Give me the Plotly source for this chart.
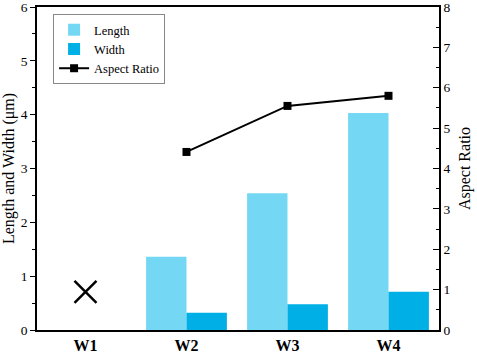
import plotly.graph_objects as go

categories = ["W1", "W2", "W3", "W4"]
length_um = [None, 1.36, 2.54, 4.03]
width_um = [None, 0.32, 0.48, 0.71]
aspect_ratio = [None, 4.41, 5.55, 5.80]
w1_marker_y = [0.71]
w1_marker_x = ["W1"]

FONT = "Liberation Serif"

fig = go.Figure()
fig.add_trace(go.Bar(x=categories, y=length_um, name="Length",
                     marker=dict(color="#74D8F4", line=dict(width=0))))
fig.add_trace(go.Bar(x=categories, y=width_um, name="Width",
                     marker=dict(color="#00AFE6", line=dict(width=0))))
fig.add_trace(go.Scatter(x=categories, y=aspect_ratio, name="Aspect Ratio",
                         yaxis="y2", mode="lines+markers",
                         line=dict(color="black", width=2),
                         marker=dict(symbol="square", size=8, color="black")))
fig.add_trace(go.Scatter(x=w1_marker_x, y=w1_marker_y, mode="markers", showlegend=False,
                         marker=dict(symbol="x-thin", size=22,
                                     line=dict(color="black", width=2.5))))

fig.update_layout(
    width=477, height=355,
    margin=dict(l=37, r=38, t=7, b=25, autoexpand=False),
    paper_bgcolor="white", plot_bgcolor="white",
    barmode="group", bargap=0.2, bargroupgap=0,
    font=dict(family=FONT, color="black", size=13),
    showlegend=True,
    legend=dict(x=0.04, y=0.978, xanchor="left", yanchor="top",
                bgcolor="white", bordercolor="#888888", borderwidth=1,
                font=dict(family=FONT, size=12.5), tracegroupgap=0,
                itemwidth=30),
    xaxis=dict(range=[-0.48, 3.5], showline=True, linecolor="black", linewidth=1.5,
               mirror=True, ticks="", showgrid=False, zeroline=False, automargin=False,
               tickfont=dict(family=FONT, size=16, weight="bold"),
               ticklabelstandoff=0, ticklabeloverflow="allow"),
    yaxis=dict(range=[0, 6], showline=True, linecolor="black", linewidth=1.5,
               ticks="outside", ticklen=5, tickwidth=1.2, tickcolor="black",
               dtick=1, showgrid=False, zeroline=False, automargin=False,
               ticklabeloverflow="allow",
               minor=dict(ticks="outside", ticklen=3, dtick=0.5, tickcolor="black", tickwidth=1),
               tickfont=dict(family=FONT, size=13.5),
               title=dict(text="Length and Width (μm)", font=dict(family=FONT, size=16), standoff=5)),
    yaxis2=dict(range=[0, 8], overlaying="y", side="right", showline=True,
                linecolor="black", linewidth=1.5,
                ticks="inside", ticklen=6, tickwidth=1.2, tickcolor="black",
                dtick=1, showgrid=False, zeroline=False, automargin=False,
                ticklabeloverflow="allow",
                minor=dict(ticks="inside", ticklen=3, dtick=0.5, tickcolor="black", tickwidth=1),
                tickfont=dict(family=FONT, size=13.5),
                title=dict(text="Aspect Ratio", font=dict(family=FONT, size=16), standoff=9)),
)

fig.write_html("out.html", config={"displayModeBar": False},
               post_script="document.body.style.margin='0';")
